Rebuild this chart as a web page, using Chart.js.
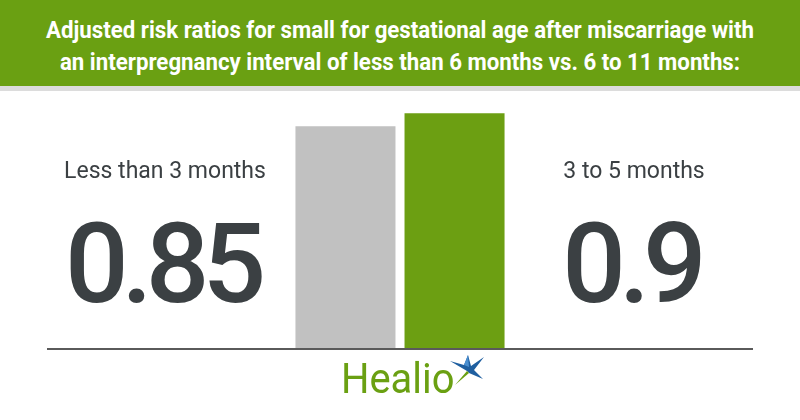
<!DOCTYPE html>
<html>
<head>
<meta charset="utf-8">
<script src="https://cdn.jsdelivr.net/npm/chart.js@4.4.0/dist/chart.umd.min.js"></script>
<style>
  html, body { margin: 0; padding: 0; background: #fff; }
  #wrap { position: relative; width: 800px; height: 420px; overflow: hidden; }
  #chart { position: absolute; left: 0; top: 0; }
  #header {
    position: absolute; left: 0; top: 0; width: 800px; height: 86px;
    background: #6aa012; border-bottom: 5px solid #dcdcdc; z-index: 2;
    color: #fff; font-family: Roboto, "Liberation Sans", sans-serif; font-weight: 700;
    font-size: 24px; text-align: center;
  }
  #header div { position: absolute; left: 0; width: 800px; white-space: nowrap; transform: scaleX(0.927); transform-origin: 400px 0; }
  #logo { position: absolute; left: 341px; top: 354px; z-index: 2; font-family: Roboto, sans-serif; font-size: 42px; color: #6aa012; transform: scaleX(0.95); transform-origin: 0 0; }
  #star { position: absolute; left: 447px; top: 353px; z-index: 2; }
</style>
</head>
<body>
<div id="wrap">
  <div id="header">
    <div style="top:16px">Adjusted risk ratios for small for gestational age after miscarriage with</div>
    <div style="top:48px">an interpregnancy interval of less than 6 months vs. 6 to 11 months:</div>
  </div>
  <canvas id="chart" width="800" height="420"></canvas>
  <div id="logo">Healio</div>
  <svg id="star" width="40" height="36" viewBox="0 0 40 36">
    <polygon points="3,8 17,12 21,2 24,13 37,4 27,17 36,26 22,20 20,18" fill="#1f5fa0"/>
    <polygon points="20,18 22,20 8,32" fill="#6aa012"/>
    <polygon points="17,12 21,2 22,14" fill="#4a8fd0"/>
  </svg>
</div>
<script>
// data
const categories = ["Less than 3 months", "3 to 5 months"];
const values = [0.85, 0.9];
const valueLabels = ["0.85", "0.9"];
const barColors = ["#c1c1c1", "#6c9f12"];

const textPlugin = {
  id: "bigText",
  afterDraw(chart) {
    const ctx = chart.ctx;
    const area = chart.chartArea;
    const y = chart.scales.y;
    // baseline
    ctx.save();
    ctx.strokeStyle = "#5a5a5a";
    ctx.lineWidth = 2;
    ctx.beginPath();
    ctx.moveTo(area.left, y.getPixelForValue(0));
    ctx.lineTo(area.right, y.getPixelForValue(0));
    ctx.stroke();

    const centers = [area.left + 118, area.right - 119];
    ctx.fillStyle = "#3b4043";
    ctx.textAlign = "center";
    ctx.textBaseline = "alphabetic";
    categories.forEach((c, i) => {
      ctx.font = "400 23px Roboto";
      ctx.fillText(c, centers[i], 178);
      ctx.font = "500 112px Roboto";
      ctx.letterSpacing = "-7px";
      ctx.fillText(valueLabels[i], centers[i] - 3, 302);
      ctx.letterSpacing = "0px";
    });
    ctx.restore();
  }
};

new Chart(document.getElementById("chart"), {
  type: "bar",
  data: {
    labels: [""],
    datasets: categories.map((c, i) => ({
      label: c,
      data: [values[i]],
      backgroundColor: barColors[i],
      borderWidth: 0,
      categoryPercentage: 0.309,
      barPercentage: 0.917
    }))
  },
  options: {
    responsive: false,
    animation: false,
    layout: { padding: { left: 47, right: 47, top: 87, bottom: 71 } },
    plugins: { legend: { display: false }, tooltip: { enabled: false } },
    scales: {
      x: { display: false },
      y: { display: false, min: 0, max: 1 }
    }
  },
  plugins: [textPlugin]
});
</script>
</body>
</html>
